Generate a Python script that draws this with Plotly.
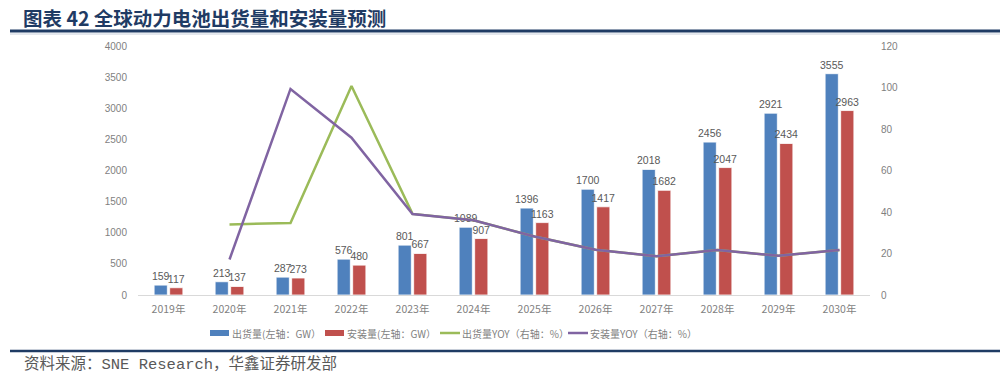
import plotly.graph_objects as go

years = ["2019年", "2020年", "2021年", "2022年", "2023年", "2024年",
         "2025年", "2026年", "2027年", "2028年", "2029年", "2030年"]
shipments = [159, 213, 287, 576, 801, 1089, 1396, 1700, 2018, 2456, 2921, 3555]
installed = [117, 137, 273, 480, 667, 907, 1163, 1417, 1682, 2047, 2434, 2963]
ship_yoy = [None, 34.0, 34.7, 100.7, 39.1, 36.0, 28.2, 21.8, 18.7, 21.7, 18.9, 21.7]
inst_yoy = [None, 17.1, 99.3, 75.8, 39.0, 36.0, 28.2, 21.8, 18.7, 21.7, 18.9, 21.7]
left_ticks = list(range(0, 4001, 500))
right_ticks = list(range(0, 121, 20))
legend_names = ["出货量(左轴：GW）", "安装量(左轴：GW）", "出货量YOY（右轴：%）", "安装量YOY（右轴：%）"]
colors = ["#4f81bd", "#c0504d", "#9bbb59", "#8064a2"]

CJK = "Noto Sans CJK SC"
GRAY = "#7f7f7f"
NAVY = "#1f3b64"

# plot area geometry (pixels)
L, R, T, B = 138, 870, 46, 295
W, H = R - L, B - T


def px(x):
    return (x - L) / W


def py(y):
    return (B - y) / H


fig = go.Figure()
fig.add_trace(go.Bar(
    x=years, y=shipments, name=legend_names[0],
    marker=dict(color=colors[0], line=dict(color="white", width=0.8)),
    text=[str(v) for v in shipments], textposition="outside", constraintext="none",
    textfont=dict(size=10.5, color="#595959", family="Liberation Sans"),
    cliponaxis=False,
))
fig.add_trace(go.Bar(
    x=years, y=installed, name=legend_names[1],
    marker=dict(color=colors[1], line=dict(color="white", width=0.8)),
    text=[str(v) for v in installed], textposition="outside", constraintext="none",
    textfont=dict(size=10.5, color="#595959", family="Liberation Sans"),
    cliponaxis=False,
))
fig.add_trace(go.Scatter(
    x=years, y=ship_yoy, name=legend_names[2], yaxis="y2",
    mode="lines", line=dict(color=colors[2], width=2.5), connectgaps=False,
))
fig.add_trace(go.Scatter(
    x=years, y=inst_yoy, name=legend_names[3], yaxis="y2",
    mode="lines", line=dict(color=colors[3], width=2.5), connectgaps=False,
))

shapes = [
    dict(type="line", xref="paper", yref="paper", x0=px(10), x1=px(1000),
         y0=py(31), y1=py(31), line=dict(color=NAVY, width=3)),
    dict(type="line", xref="paper", yref="paper", x0=px(10), x1=px(1000),
         y0=py(34), y1=py(34), line=dict(color="#c9d0dc", width=1)),
    dict(type="line", xref="paper", yref="paper", x0=px(10), x1=px(1000),
         y0=py(351), y1=py(351), line=dict(color=NAVY, width=2.5)),
]
annotations = [
    dict(text="<b>图表 42 全球动力电池出货量和安装量预测</b>", xref="paper", yref="paper",
         x=px(21), y=py(17), xanchor="left", yanchor="middle",
         showarrow=False, font=dict(size=19.5, color=NAVY, family=CJK)),
    dict(text="资料来源：SNE Research，华鑫证券研发部", xref="paper", yref="paper",
         x=px(22), y=py(364), xanchor="left", yanchor="middle",
         showarrow=False, font=dict(size=15.5, color="#595959",
                                    family="Liberation Mono, Noto Sans CJK SC")),
]

# custom legend
leg_y = 333
sym_x = [210, 325, 440, 568]
for i, (name, c, x0) in enumerate(zip(legend_names, colors, sym_x)):
    if i < 2:
        shapes.append(dict(type="rect", xref="paper", yref="paper",
                           x0=px(x0), x1=px(x0 + 19), y0=py(leg_y + 3), y1=py(leg_y - 3),
                           fillcolor=c, line=dict(width=0)))
    else:
        shapes.append(dict(type="line", xref="paper", yref="paper",
                           x0=px(x0), x1=px(x0 + 20), y0=py(leg_y), y1=py(leg_y),
                           line=dict(color=c, width=2.5)))
    annotations.append(dict(text=name, xref="paper", yref="paper",
                            x=px(x0 + 20), y=py(leg_y), xanchor="left", yanchor="middle",
                            showarrow=False, font=dict(size=10, color=GRAY, family=CJK)))

fig.update_layout(
    width=1000, height=378,
    margin=dict(l=L, r=1000 - R, t=T, b=378 - B, autoexpand=False),
    paper_bgcolor="white", plot_bgcolor="white",
    barmode="group", bargap=0.49, bargroupgap=0.15,
    font=dict(family=CJK, color=GRAY, size=10),
    showlegend=False,
    xaxis=dict(showgrid=False, showline=True, linecolor="#d9d9d9", linewidth=1,
               ticks="", ticklabelstandoff=4,
               tickfont=dict(size=10.5, color=GRAY, family=CJK)),
    yaxis=dict(range=[0, 4000], tickvals=left_ticks, showgrid=False, zeroline=False,
               showline=False, ticks="", ticklabelstandoff=10,
               tickfont=dict(size=10, color=GRAY, family="Liberation Sans")),
    yaxis2=dict(range=[0, 120], tickvals=right_ticks, overlaying="y", side="right",
                showgrid=False, zeroline=False, showline=False, ticks="",
                ticklabelstandoff=10,
                tickfont=dict(size=10, color=GRAY, family="Liberation Sans")),
    shapes=shapes,
    annotations=annotations,
)

fig.write_html("out.html", config={"displayModeBar": False},
               post_script="document.body.style.margin='0px';")
